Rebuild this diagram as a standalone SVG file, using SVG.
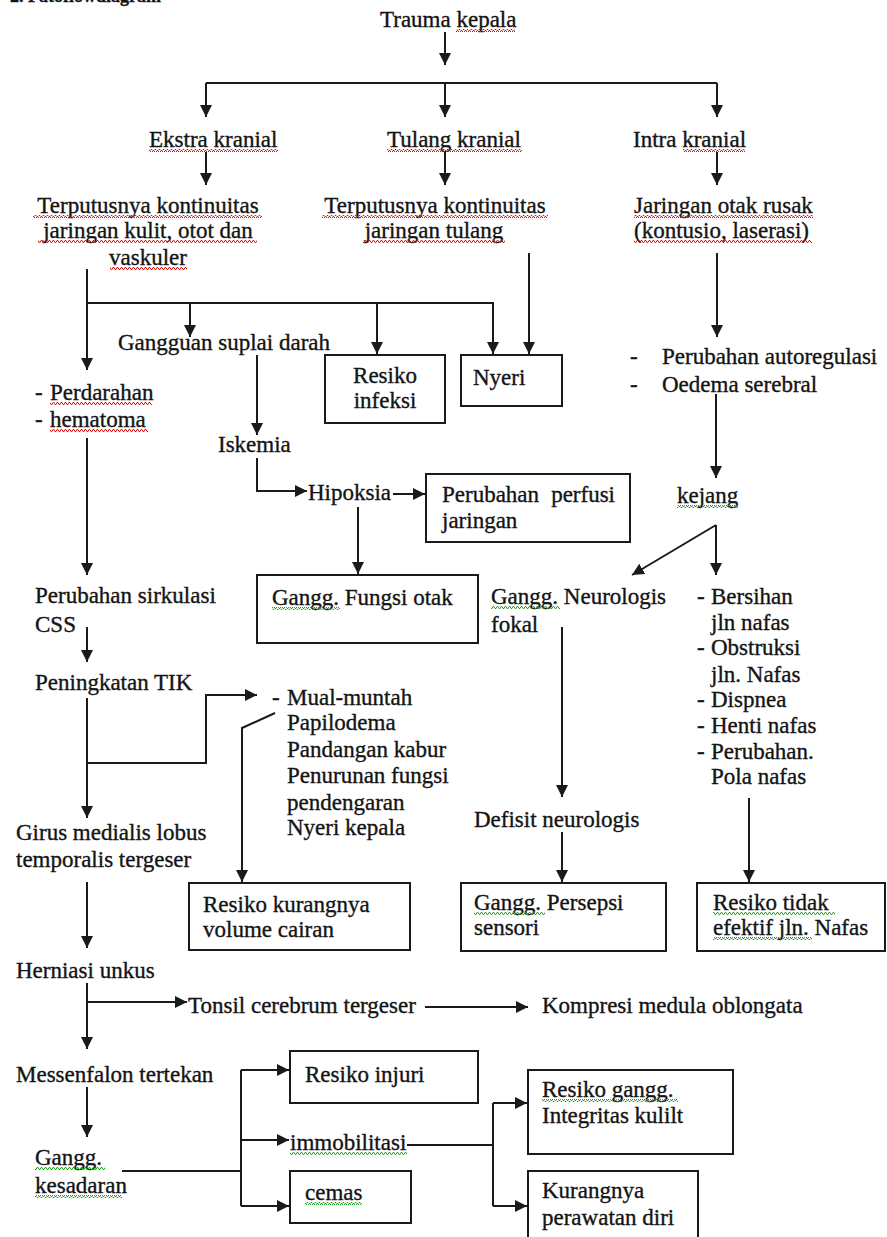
<svg xmlns="http://www.w3.org/2000/svg" width="887" height="1237" viewBox="0 0 887 1237">
<style>
text{font-family:"Liberation Serif","Times New Roman",serif;font-size:23px;fill:#141414;stroke:#141414;stroke-width:0.35}
.h{font-weight:bold;font-size:18px}
.m{text-anchor:middle}
.e{text-anchor:end}
.box{fill:#fff;stroke:#1a1a1a;stroke-width:2}
.c{fill:none;stroke:#1a1a1a;stroke-width:2}
.a{marker-end:url(#ah)}
.sr{fill:url(#wr)}
.sg{fill:url(#wg)}
</style>
<defs>
<marker id="ah" markerUnits="userSpaceOnUse" markerWidth="13" markerHeight="12" refX="12" refY="6" orient="auto">
<path d="M0,0 L12,6 L0,12 z" fill="#1a1a1a"/>
</marker>
<pattern id="wr" width="4" height="3" patternUnits="userSpaceOnUse">
<path d="M0,2.5 L1,0.5 L2,0.5 L3,2.5 L4,2.5" fill="none" stroke="#e01010" stroke-width="1"/>
</pattern>
<pattern id="wg" width="4" height="3" patternUnits="userSpaceOnUse">
<path d="M0,2.5 L1,0.5 L2,0.5 L3,2.5 L4,2.5" fill="none" stroke="#20a020" stroke-width="1"/>
</pattern>
</defs>
<rect width="887" height="1237" fill="#fff"/>
<text class="h" x="10" y="2">2. Patoflowdiagram</text>

<g id="connectors">
<path class="c a" d="M445,32 V65"/>
<path class="c" d="M206,83 H717"/>
<path class="c a" d="M206,83 V117"/>
<path class="c a" d="M445,83 V117"/>
<path class="c a" d="M717,83 V117"/>
<path class="c a" d="M206,152 V185"/>
<path class="c a" d="M445,152 V185"/>
<path class="c a" d="M717,152 V185"/>
<path class="c a" d="M87,269 V370"/>
<path class="c a" d="M87,303 H493 V354"/>
<path class="c a" d="M190,303 V337"/>
<path class="c a" d="M377,303 V354"/>
<path class="c a" d="M529,253 V354"/>
<path class="c a" d="M717,253 V337"/>
<path class="c a" d="M87,438 V575"/>
<path class="c a" d="M257,355 V435"/>
<path class="c a" d="M257,458 V491 H307"/>
<path class="c a" d="M393,494 H425"/>
<path class="c a" d="M358,507 V574"/>
<path class="c a" d="M716,394 V478"/>
<path class="c a" d="M716,525 V575"/>
<path class="c a" d="M716,525 L632,575"/>
<path class="c a" d="M87,627 V662"/>
<path class="c a" d="M87,698 V818"/>
<path class="c a" d="M87,763 H206 V695 H257"/>
<path class="c a" d="M275,713 L242,728 V882"/>
<path class="c a" d="M87,882 V948"/>
<path class="c a" d="M562,627 V797"/>
<path class="c a" d="M562,832 V882"/>
<path class="c a" d="M749,798 V882"/>
<path class="c a" d="M87,983 V1049"/>
<path class="c a" d="M87,1002 H187"/>
<path class="c a" d="M425,1007 H528"/>
<path class="c a" d="M87,1087 V1137"/>
<path class="c" d="M122,1171 H241 M241,1070 V1206"/>
<path class="c a" d="M241,1070 H289"/>
<path class="c a" d="M241,1140 H289"/>
<path class="c a" d="M241,1206 H289"/>
<path class="c" d="M407,1145 H493 M493,1103 V1206"/>
<path class="c a" d="M493,1103 H527"/>
<path class="c a" d="M493,1206 H527"/>
</g>

<g id="n-trauma"><text x="380" y="27">Trauma kepala</text></g>
<g id="n-ekstra"><text x="149" y="147">Ekstra kranial</text></g>
<g id="n-tulang"><text x="387" y="147">Tulang kranial</text></g>
<g id="n-intra"><text x="633" y="147">Intra kranial</text></g>
<g id="n-terputus1"><text class="m" x="148" y="213">Terputusnya kontinuitas</text><text class="m" x="148" y="238">jaringan kulit, otot dan</text><text class="m" x="148" y="265">vaskuler</text></g>
<g id="n-terputus2"><text class="m" x="435" y="213">Terputusnya kontinuitas</text><text class="m" x="434" y="238">jaringan tulang</text></g>
<g id="n-jaringan"><text x="634" y="213">Jaringan otak rusak</text><text x="634" y="238">(kontusio, laserasi)</text></g>
<g id="n-gangguan"><text x="118" y="350">Gangguan suplai  darah</text></g>
<g id="n-infeksi"><rect class="box" x="325" y="355" width="120" height="68"/><text class="m" x="385" y="383">Resiko</text><text class="m" x="385" y="408">infeksi</text></g>
<g id="n-nyeri"><rect class="box" x="461" y="355" width="101" height="51"/><text x="473" y="385">Nyeri</text></g>
<g id="n-autoreg"><text x="630" y="364">-</text><text x="662" y="364">Perubahan autoregulasi</text><text x="630" y="392">-</text><text x="662" y="392">Oedema serebral</text></g>
<g id="n-perdarahan"><text x="35" y="400">-</text><text x="50" y="400">Perdarahan</text><text x="35" y="427">-</text><text x="50" y="427">hematoma</text></g>
<g id="n-iskemia"><text x="218" y="452">Iskemia</text></g>
<g id="n-hipoksia"><text x="308" y="500">Hipoksia</text></g>
<g id="n-perfusi"><rect class="box" x="426" y="474" width="204" height="68"/><text x="442" y="502">Perubahan</text><text class="e" x="615" y="502">perfusi</text><text x="442" y="528">jaringan</text></g>
<g id="n-kejang"><text x="677" y="503">kejang</text></g>
<g id="n-fungsiotak"><rect class="box" x="257" y="575" width="221" height="68"/><text x="272" y="605">Gangg. Fungsi otak</text></g>
<g id="n-neurologis"><text x="491" y="604">Gangg. Neurologis</text><text x="491" y="632">fokal</text></g>
<g id="n-nafas"><text x="697" y="604">-</text><text x="711" y="604">Bersihan</text><text x="711" y="630">jln nafas</text><text x="697" y="655">-</text><text x="711" y="655">Obstruksi</text><text x="711" y="682">jln. Nafas</text><text x="697" y="707">-</text><text x="711" y="707">Dispnea</text><text x="697" y="733">-</text><text x="711" y="733">Henti nafas</text><text x="697" y="759">-</text><text x="711" y="759">Perubahan.</text><text x="711" y="784">Pola nafas</text></g>
<g id="n-sirkulasi"><text x="35" y="603">Perubahan sirkulasi</text><text x="35" y="632">CSS</text></g>
<g id="n-tik"><text x="35" y="690">Peningkatan TIK</text></g>
<g id="n-mual"><text x="272" y="705">-</text><text x="287" y="705">Mual-muntah</text><text x="287" y="730">Papilodema</text><text x="287" y="757">Pandangan kabur</text><text x="287" y="783">Penurunan fungsi</text><text x="287" y="810">pendengaran</text><text x="287" y="835">Nyeri kepala</text></g>
<g id="n-girus"><text x="16" y="840">Girus medialis lobus</text><text x="16" y="867">temporalis tergeser</text></g>
<g id="n-defisit"><text x="474" y="827">Defisit neurologis</text></g>
<g id="n-cairan"><rect class="box" x="189" y="883" width="221" height="67"/><text x="203" y="912">Resiko kurangnya</text><text x="203" y="937">volume cairan</text></g>
<g id="n-persepsi"><rect class="box" x="461" y="883" width="205" height="68"/><text x="474" y="910">Gangg. Persepsi</text><text x="474" y="935">sensori</text></g>
<g id="n-efektif"><rect class="box" x="697" y="883" width="188" height="68"/><text x="713" y="910">Resiko tidak</text><text x="713" y="935">efektif jln. Nafas</text></g>
<g id="n-herniasi"><text x="16" y="978">Herniasi unkus</text></g>
<g id="n-tonsil"><text x="188" y="1013">Tonsil cerebrum tergeser</text></g>
<g id="n-kompresi"><text x="542" y="1013">Kompresi medula oblongata</text></g>
<g id="n-messenfalon"><text x="16" y="1082">Messenfalon tertekan</text></g>
<g id="n-injuri"><rect class="box" x="290" y="1051" width="188" height="52"/><text x="305" y="1082">Resiko injuri</text></g>
<g id="n-kesadaran"><text x="35" y="1165">Gangg.</text><text x="35" y="1193">kesadaran</text></g>
<g id="n-immobilitasi"><text x="290" y="1150">immobilitasi</text></g>
<g id="n-cemas"><rect class="box" x="290" y="1171" width="121" height="52"/><text x="305" y="1200">cemas</text></g>
<g id="n-integritas"><rect class="box" x="528" y="1070" width="205" height="84"/><text x="542" y="1097">Resiko gangg.</text><text x="542" y="1123">Integritas kulilt</text></g>
<g id="n-perawatan"><rect class="box" x="528" y="1171" width="170" height="80"/><text x="542" y="1198">Kurangnya</text><text x="542" y="1225">perawatan diri</text></g>

<g id="spellcheck">
<rect class="sr" x="456" y="29" width="59" height="3"/>
<rect class="sr" x="149" y="149" width="129" height="3"/>
<rect class="sr" x="387" y="149" width="135" height="3"/>
<rect class="sr" x="683" y="149" width="62" height="3"/>
<rect class="sr" x="33" y="215" width="229" height="3"/>
<rect class="sr" x="38" y="240" width="219" height="3"/>
<rect class="sr" x="110" y="267" width="77" height="3"/>
<rect class="sr" x="322" y="215" width="226" height="3"/>
<rect class="sr" x="363" y="240" width="142" height="3"/>
<rect class="sr" x="634" y="215" width="179" height="3"/>
<rect class="sr" x="634" y="240" width="178" height="3"/>
<rect class="sr" x="50" y="402" width="102" height="3"/>
<rect class="sr" x="50" y="429" width="98" height="3"/>
<rect class="sg" x="272" y="607" width="68" height="3"/>
<rect class="sg" x="677" y="505" width="61" height="3"/>
<rect class="sg" x="491" y="606" width="69" height="3"/>
<rect class="sg" x="474" y="912" width="71" height="3"/>
<rect class="sg" x="713" y="912" width="122" height="3"/>
<rect class="sg" x="713" y="937" width="99" height="3"/>
<rect class="sg" x="35" y="1167" width="70" height="3"/>
<rect class="sg" x="35" y="1195" width="87" height="3"/>
<rect class="sg" x="290" y="1152" width="117" height="3"/>
<rect class="sg" x="305" y="1202" width="57" height="3"/>
<rect class="sg" x="542" y="1099" width="136" height="3"/>
</g>
</svg>
